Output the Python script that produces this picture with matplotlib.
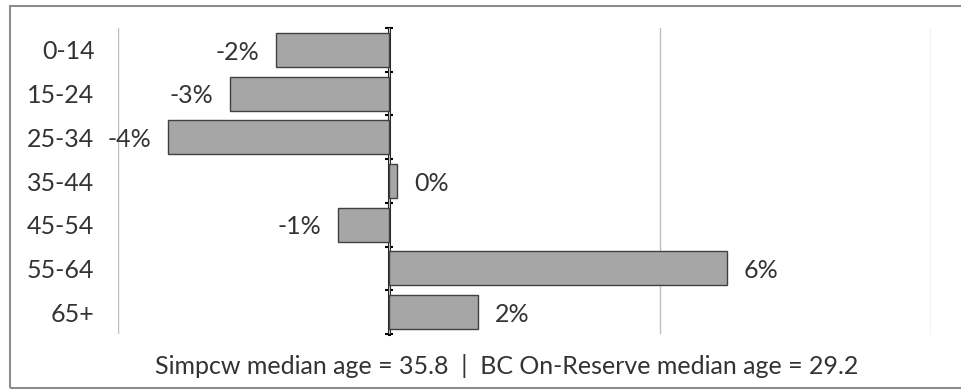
import matplotlib.pyplot as plt
from matplotlib.patches import Rectangle

age_groups = ['0-14', '15-24', '25-34', '35-44', '45-54', '55-64', '65+']
pct_diff = [-2.08, -2.93, -4.08, 0.15, -0.94, 6.24, 1.64]
footnote = 'Simpcw median age = 35.8  |  BC On-Reserve median age = 29.2'

plt.rcParams['font.family'] = ['Lato', 'DejaVu Sans']
text_col = '#333333'
fs = 18

fig = plt.figure(figsize=(9.61, 3.91), dpi=100)
ax = fig.add_axes([118 / 961, 1 - 334 / 391, (931 - 118) / 961, (334 - 28) / 391])

ypos = list(range(len(age_groups)))
ax.barh(ypos, pct_diff, height=0.78, color='#a6a6a6', edgecolor='#404040', linewidth=1.0, zorder=3)

for y, v in zip(ypos, pct_diff):
    lbl = f'{v:.0f}%'
    if lbl == '-0%':
        lbl = '0%'
    if v < 0:
        ax.text(v - 0.31, y + 0.05, lbl, ha='right', va='center', fontsize=fs, color=text_col, zorder=4)
    else:
        ax.text(v + 0.31, y + 0.05, lbl, ha='left', va='center', fontsize=fs, color=text_col, zorder=4)

ax.set_xlim(-5, 10)
ax.set_ylim(len(age_groups) - 0.5, -0.5)
ax.set_xticks([-5, 0, 5, 10])
ax.tick_params(axis='x', length=0, labelbottom=False)
ax.grid(axis='x', color='#bfbfbf', linewidth=1.0, zorder=0)
for s in ax.spines.values():
    s.set_visible(False)

ax.set_yticks(ypos)
ax.set_yticklabels(age_groups)
ax.tick_params(axis='y', length=0, pad=17, labelsize=fs, labelcolor=text_col)

# zero axis with tick marks between the age groups
zero_ax = ax.secondary_yaxis(1 / 3)
zero_ax.spines['left'].set_linewidth(2.2)
zero_ax.spines['left'].set_color('black')
zero_ax.set_yticks([i - 0.5 for i in range(len(age_groups) + 1)])
zero_ax.tick_params(axis='y', direction='inout', length=6, width=1.5, labelleft=False)

fig.text(507 / 961, 1 - 366 / 391, footnote, ha='center', va='center', fontsize=fs, color=text_col)

fig.add_artist(Rectangle((10 / 961, 1 - 388 / 391), 1.0, (388 - 6) / 391,
                         transform=fig.transFigure, fill=False, edgecolor='#8c8c8c', linewidth=1.5))

fig.savefig('out.png', dpi=100)
